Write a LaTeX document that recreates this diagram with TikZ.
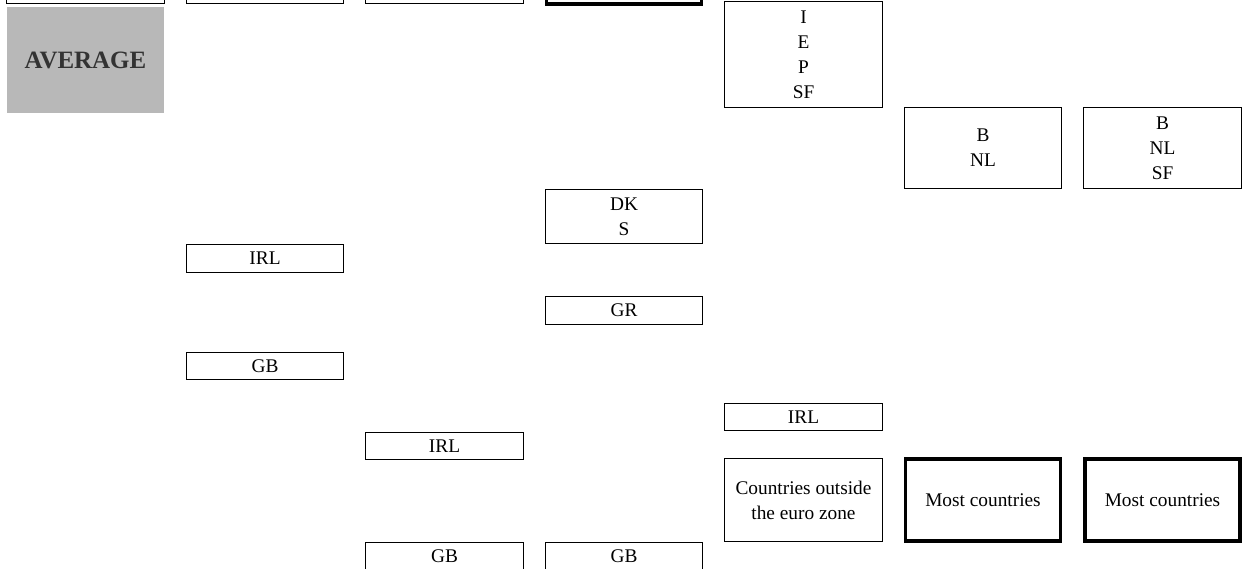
\documentclass[tikz,border=0pt]{standalone}
\usepackage{fontspec}
\setmainfont{Liberation Serif}

\begin{document}
\begin{tikzpicture}[
    every node/.style={font=\fontsize{11}{14.2}\selectfont, inner sep=0pt, align=center},
    cell/.style={draw, line width=0.8pt, minimum width=3.15cm, minimum height=0.55cm},
    boldcell/.style={cell, line width=2.2pt, minimum width=3.10cm},
    avgbox/.style={fill=black!28, minimum width=3.14cm, minimum height=2.12cm,
                   text=black!80, font=\fontsize{14.2}{16}\selectfont\bfseries}
]

% Per-column x positions (cm), seven columns
\def\ca{1.71}
\def\cb{5.30}
\def\cc{8.89}
\def\cd{12.48}
\def\ce{16.07}
\def\cf{19.66}
\def\cg{23.25}

\useasboundingbox (0,0) rectangle (24.84,-11.36);

% top row (cut off at the top edge)
\node[cell]     (t1) at (\ca, 0.2) {};
\node[cell]     (t2) at (\cb, 0.2) {};
\node[cell]     (t3) at (\cc, 0.2) {};
\node[boldcell] (t4) at (\cd, 0.2) {};

% average label
\node[avgbox] (avg) at (\ca, -1.2) {AVERAGE};

% column 2
\node[cell] (irlb) at (\cb, -5.17) {IRL};
\node[cell] (gbb)  at (\cb, -7.32) {GB};

% column 3
\node[cell] (irlc) at (\cc, -8.92)  {IRL};
\node[cell] (gbc)  at (\cc, -11.13) {GB};

% column 4
\node[cell, minimum height=1.07cm] (dks) at (\cd, -4.33) {DK\\S};
\node[cell] (gr)  at (\cd, -6.21)  {GR};
\node[cell] (gbd) at (\cd, -11.13) {GB};

% column 5
\node[cell, minimum height=2.11cm] (iepsf) at (\ce, -1.09) {I\\E\\P\\SF};
\node[cell] (irle) at (\ce, -8.34) {IRL};
\node[cell, minimum height=1.65cm] (outside) at (\ce, -10.0) {Countries outside\\the euro zone};

% column 6
\node[cell, minimum height=1.61cm] (bnl) at (\cf, -2.96) {B\\NL};
\node[boldcell, minimum height=1.64cm] (mostf) at (\cf, -10.0) {Most countries};

% column 7
\node[cell, minimum height=1.61cm] (bnlsf) at (\cg, -2.96) {B\\NL\\SF};
\node[boldcell, minimum height=1.64cm] (mostg) at (\cg, -10.0) {Most countries};

\end{tikzpicture}
\end{document}
